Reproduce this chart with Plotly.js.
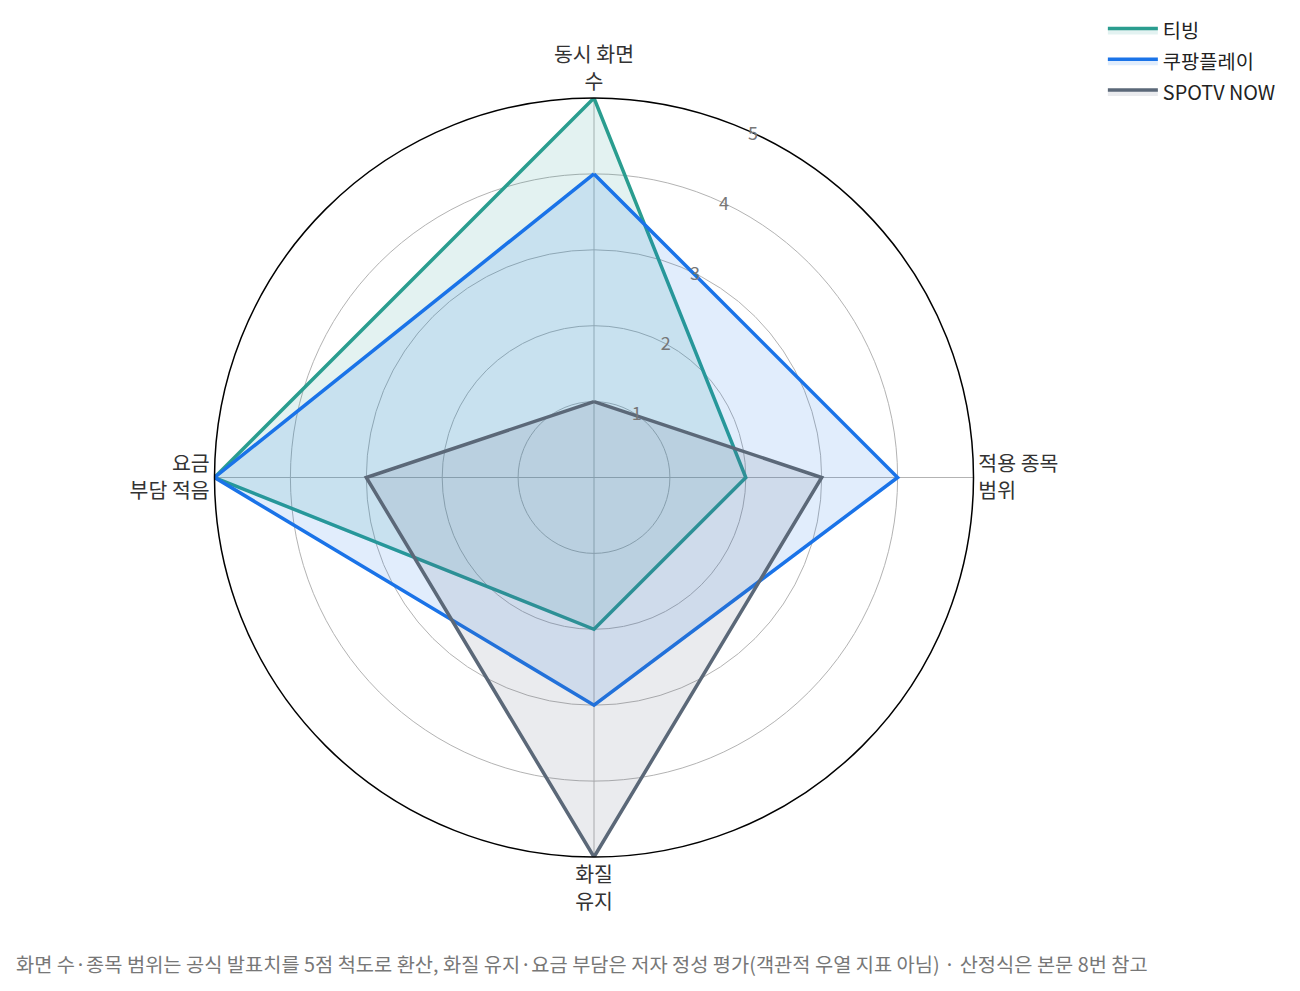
<!DOCTYPE html>
<html>
<head>
<meta charset="utf-8">
<script src="https://cdn.plot.ly/plotly-3.0.1.min.js"></script>
<style>
  body { margin: 0; background: #fff; }
  #chart { width: 1300px; height: 991px; }
</style>
</head>
<body>
<div id="chart"></div>
<script>
// axes of the radar, clockwise from top
var categories = ['동시 화면<br>수', '적용 종목<br>범위', '화질<br>유지', '요금<br>부담 적음'];

var tving = [5, 2, 2, 5];
var coupang = [4, 4, 3, 5];
var spotv = [1, 3, 5, 3];

var radialTicks = [1, 2, 3, 4, 5];

// close the polygon
function closed(arr) {
    return arr.concat([arr[0]]);
}

function series(name, values, color, fill) {
    return {
        type: 'scatterpolar',
        name: name,
        legendgroup: name,
        r: closed(values),
        theta: closed(categories),
        mode: 'lines',
        line: { color: color, width: 3.5 },
        fill: 'toself',
        fillcolor: fill,
        hoverinfo: 'name+r'
    };
}

var data = [
    series('티빙', tving, '#2a9d8f', 'rgba(42,157,143,0.13)'),
    series('쿠팡플레이', coupang, '#1a73e8', 'rgba(26,115,232,0.13)'),
    series('SPOTV NOW', spotv, '#5b6878', 'rgba(91,104,120,0.13)')
];

var layout = {
    width: 1300,
    height: 991,
    margin: { l: 80, r: 192, t: 97, b: 134 },
    paper_bgcolor: '#fff',
    font: { family: '"Noto Sans CJK KR", "Noto Sans", sans-serif', size: 20, color: '#333' },
    showlegend: true,
    legend: {
        x: 0.995, xanchor: 'left',
        y: 1.113, yanchor: 'top',
        font: { size: 19.8, color: '#222' },
        itemwidth: 50,
        traceorder: 'grouped',
        tracegroupgap: 2
    },
    polar: {
        bgcolor: '#fff',
        angularaxis: {
            direction: 'clockwise',
            rotation: 90,
            linecolor: '#000',
            linewidth: 1.5,
            gridcolor: '#b3b3b3',
            gridwidth: 1.4,
            ticks: '',
            tickfont: { size: 20.5, color: '#333' }
        },
        radialaxis: {
            range: [0, 5],
            tickvals: radialTicks,
            angle: 67.5,
            tickangle: 67.5,
            showline: false,
            ticks: '',
            gridcolor: '#b3b3b3',
            gridwidth: 1.4,
            tickfont: { size: 18, color: '#777' }
        }
    },
    annotations: [{
        xref: 'paper', yref: 'paper',
        x: -0.064, y: -0.14,
        xanchor: 'left', yanchor: 'middle',
        showarrow: false,
        text: '화면 수·종목 범위는 공식 발표치를 5점 척도로 환산, 화질 유지·요금 부담은 저자 정성 평가(객관적 우열 지표 아님) · 산정식은 본문 8번 참고',
        font: { size: 19.8, color: '#777' }
    }]
};

Plotly.newPlot('chart', data, layout, { displayModeBar: false });
</script>
</body>
</html>
